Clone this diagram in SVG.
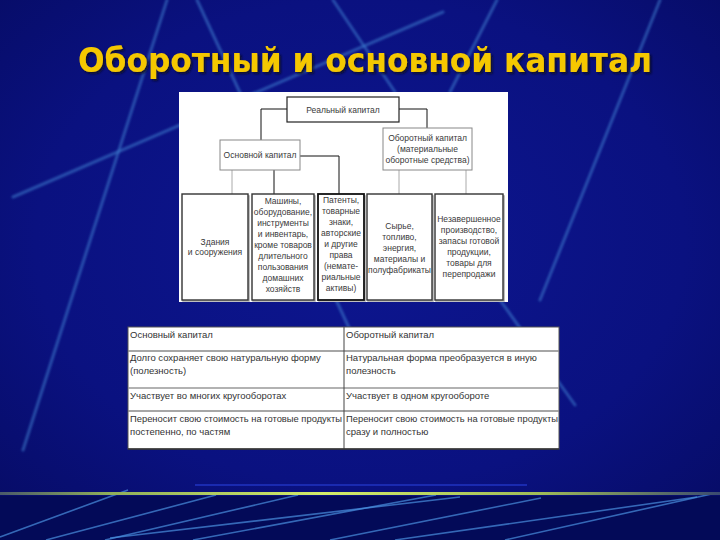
<svg xmlns="http://www.w3.org/2000/svg" width="720" height="540" viewBox="0 0 720 540">
<defs>
<radialGradient id="bg" cx="0.5" cy="0.45" r="0.75">
<stop offset="0" stop-color="#0d1690"/>
<stop offset="0.6" stop-color="#0a1180"/>
<stop offset="1" stop-color="#060b62"/>
</radialGradient>
<linearGradient id="hl" x1="0" y1="0" x2="1" y2="0">
<stop offset="0" stop-color="#4a5a6a"/>
<stop offset="0.15" stop-color="#8fae5a"/>
<stop offset="0.45" stop-color="#d4ec6a"/>
<stop offset="0.75" stop-color="#9fbb58"/>
<stop offset="1" stop-color="#3a4a70"/>
</linearGradient>
<filter id="blur" x="-5%" y="-5%" width="110%" height="110%"><feGaussianBlur stdDeviation="1.2"/></filter>
<filter id="tsh" x="-5%" y="-20%" width="110%" height="140%"><feGaussianBlur stdDeviation="0.6"/></filter>
<filter id="shadow" x="-5%" y="-30%" width="110%" height="160%"><feDropShadow dx="2" dy="2" stdDeviation="0.8" flood-color="#101020" flood-opacity="0.85"/></filter>
</defs>
<style>
.bgl{stroke:#3f7fd0;stroke-width:3;stroke-opacity:0.55;fill:none;stroke-linecap:round}
.bgl2{stroke:#4a90e0;stroke-width:1.6;stroke-opacity:0.7;fill:none}
.nt{font-family:"Liberation Sans",Arial,sans-serif;font-size:8.5px;fill:#3a3a3a;text-anchor:middle}
.tt{font-family:"Liberation Sans",Arial,sans-serif;font-size:9.5px;fill:#333}
.bx{fill:#fff;stroke:#333;stroke-width:1.4}
.bxs{fill:none;stroke:#aaa;stroke-width:1.5}
.c{fill:none;stroke:#111;stroke-width:1}
.cg{fill:none;stroke:#aaa;stroke-width:1}
</style>

<!-- background -->
<rect x="0" y="0" width="720" height="540" fill="url(#bg)"/>
<rect x="0" y="496" width="720" height="44" fill="#030a58"/>
<g filter="url(#blur)">
<line class="bgl" x1="13" y1="197" x2="443" y2="12"/>
<line class="bgl" x1="167" y1="0" x2="23" y2="450"/>
<line class="bgl" x1="197" y1="0" x2="350" y2="330"/>
<line class="bgl" x1="333" y1="0" x2="395" y2="92"/>
<line class="bgl" x1="497" y1="0" x2="450" y2="92"/>
<line class="bgl" x1="660" y1="0" x2="540" y2="300"/>
<line class="bgl" x1="500" y1="300" x2="575" y2="405"/>
</g>
<g filter="url(#tsh)">
<line class="bgl2" x1="0" y1="537" x2="128" y2="490"/>
<line class="bgl2" x1="46" y1="540" x2="216" y2="495"/>
<line class="bgl2" x1="105" y1="540" x2="298" y2="495"/>
<line class="bgl2" x1="110" y1="538" x2="460" y2="497"/>
<line class="bgl2" x1="193" y1="540" x2="436" y2="495"/>
<line class="bgl2" x1="330" y1="540" x2="541" y2="498"/>
<line class="bgl2" x1="395" y1="540" x2="697" y2="497"/>
<line class="bgl2" x1="505" y1="540" x2="716" y2="493"/>
</g>
<rect x="195" y="484" width="332" height="2" fill="#1a2ab0"/>
<rect x="0" y="492" width="720" height="3" fill="url(#hl)"/>

<!-- title -->
<g id="title" filter="url(#shadow)">
<text x="78" y="72" font-family="'DejaVu Sans',Verdana,sans-serif" font-weight="bold" font-size="33" textLength="574" lengthAdjust="spacingAndGlyphs" fill="#f5c800">Оборотный и основной капитал</text>
</g>

<!-- diagram panel -->
<rect x="179" y="92" width="329" height="210" fill="#ffffff"/>

<g id="connectors">
<polyline class="c" points="287,109 261,109 261,140"/>
<polyline class="c" points="399,109 427,109 427,128"/>
<polyline class="c" points="300,156 339,156 339,194"/>
<line class="cg" x1="232" y1="170" x2="232" y2="194"/>
<line class="c" x1="274" y1="170" x2="274" y2="194"/>
<line class="cg" x1="399" y1="170" x2="399" y2="194"/>
<line class="cg" x1="466" y1="170" x2="466" y2="194"/>
</g>

<g id="n-real">
<rect x="287" y="97" width="112" height="25" fill="#fff" stroke="#222" stroke-width="1.2"/>
<text class="nt" x="343" y="113">Реальный капитал</text>
</g>
<g id="n-osn">
<rect x="220" y="140" width="80" height="30" fill="#fff" stroke="#888" stroke-width="1"/>
<text class="nt" x="260" y="158">Основной капитал</text>
</g>
<g id="n-obor">
<rect x="383" y="128" width="89" height="42" fill="#fff" stroke="#888" stroke-width="1"/>
<text class="nt" x="427.5" y="141">Оборотный капитал</text>
<text class="nt" x="427.5" y="152">(материальные</text>
<text class="nt" x="427.5" y="163">оборотные средства)</text>
</g>

<g id="n-b1">
<rect class="bxs" x="183" y="196" width="66" height="105"/>
<rect class="bx" x="182" y="194" width="66" height="106"/>
<text class="nt" x="215" y="245">Здания</text>
<text class="nt" x="215" y="255">и сооружения</text>
</g>
<g id="n-b2">
<rect class="bxs" x="253" y="196" width="62" height="105"/>
<rect class="bx" x="252" y="194" width="62" height="106"/>
<text class="nt" x="283" y="204">Машины,</text>
<text class="nt" x="283" y="215">оборудование,</text>
<text class="nt" x="283" y="226">инструменты</text>
<text class="nt" x="283" y="237">и инвентарь,</text>
<text class="nt" x="283" y="248">кроме товаров</text>
<text class="nt" x="283" y="259">длительного</text>
<text class="nt" x="283" y="270">пользования</text>
<text class="nt" x="283" y="281">домашних</text>
<text class="nt" x="283" y="292">хозяйств</text>
</g>
<g id="n-b3">
<rect class="bxs" x="319" y="196" width="46" height="105"/>
<rect x="318" y="194" width="46" height="106" fill="#fff" stroke="#111" stroke-width="1.8"/>
<text class="nt" x="341" y="203">Патенты,</text>
<text class="nt" x="341" y="214">товарные</text>
<text class="nt" x="341" y="225">знаки,</text>
<text class="nt" x="341" y="236">авторские</text>
<text class="nt" x="341" y="247">и другие</text>
<text class="nt" x="341" y="258">права</text>
<text class="nt" x="341" y="269">(немате-</text>
<text class="nt" x="341" y="280">риальные</text>
<text class="nt" x="341" y="291">активы)</text>
</g>
<g id="n-b4">
<rect class="bxs" x="368" y="196" width="65" height="105"/>
<rect class="bx" x="367" y="194" width="65" height="106"/>
<text class="nt" x="399.5" y="229">Сырье,</text>
<text class="nt" x="399.5" y="240">топливо,</text>
<text class="nt" x="399.5" y="251">энергия,</text>
<text class="nt" x="399.5" y="262">материалы и</text>
<text class="nt" x="399.5" y="273">полуфабрикаты</text>
</g>
<g id="n-b5">
<rect class="bxs" x="436" y="196" width="68" height="105"/>
<rect class="bx" x="435" y="194" width="68" height="106"/>
<text class="nt" x="469" y="222">Незавершенное</text>
<text class="nt" x="469" y="233">производство,</text>
<text class="nt" x="469" y="244">запасы готовой</text>
<text class="nt" x="469" y="255">продукции,</text>
<text class="nt" x="469" y="266">товары для</text>
<text class="nt" x="469" y="277">перепродажи</text>
</g>

<!-- table -->
<g id="table">
<rect x="128" y="327" width="431" height="122" fill="#fff" stroke="#555" stroke-width="1"/>
<line x1="128" y1="351" x2="559" y2="351" stroke="#888" stroke-width="1.5"/>
<line x1="128" y1="388" x2="559" y2="388" stroke="#999" stroke-width="1.5"/>
<line x1="128" y1="411" x2="559" y2="411" stroke="#888" stroke-width="1.5"/>
<line x1="344" y1="327" x2="344" y2="449" stroke="#444" stroke-width="1"/>
<line x1="128" y1="449" x2="559" y2="449" stroke="#333" stroke-width="1.5"/>
<text class="tt" x="130" y="338">Основный капитал</text>
<text class="tt" x="346" y="338">Оборотный капитал</text>
<text class="tt" x="130" y="361">Долго сохраняет свою натуральную форму</text>
<text class="tt" x="130" y="374">(полезность)</text>
<text class="tt" x="346" y="361">Натуральная форма преобразуется в иную</text>
<text class="tt" x="346" y="374">полезность</text>
<text class="tt" x="130" y="399">Участвует во многих кругооборотах</text>
<text class="tt" x="346" y="399">Участвует в одном кругообороте</text>
<text class="tt" x="130" y="422" textLength="212" lengthAdjust="spacingAndGlyphs">Переносит свою стоимость на готовые продукты</text>
<text class="tt" x="130" y="435">постепенно, по частям</text>
<text class="tt" x="346" y="422" textLength="212" lengthAdjust="spacingAndGlyphs">Переносит свою стоимость на готовые продукты</text>
<text class="tt" x="346" y="435">сразу и полностью</text>
</g>
</svg>
